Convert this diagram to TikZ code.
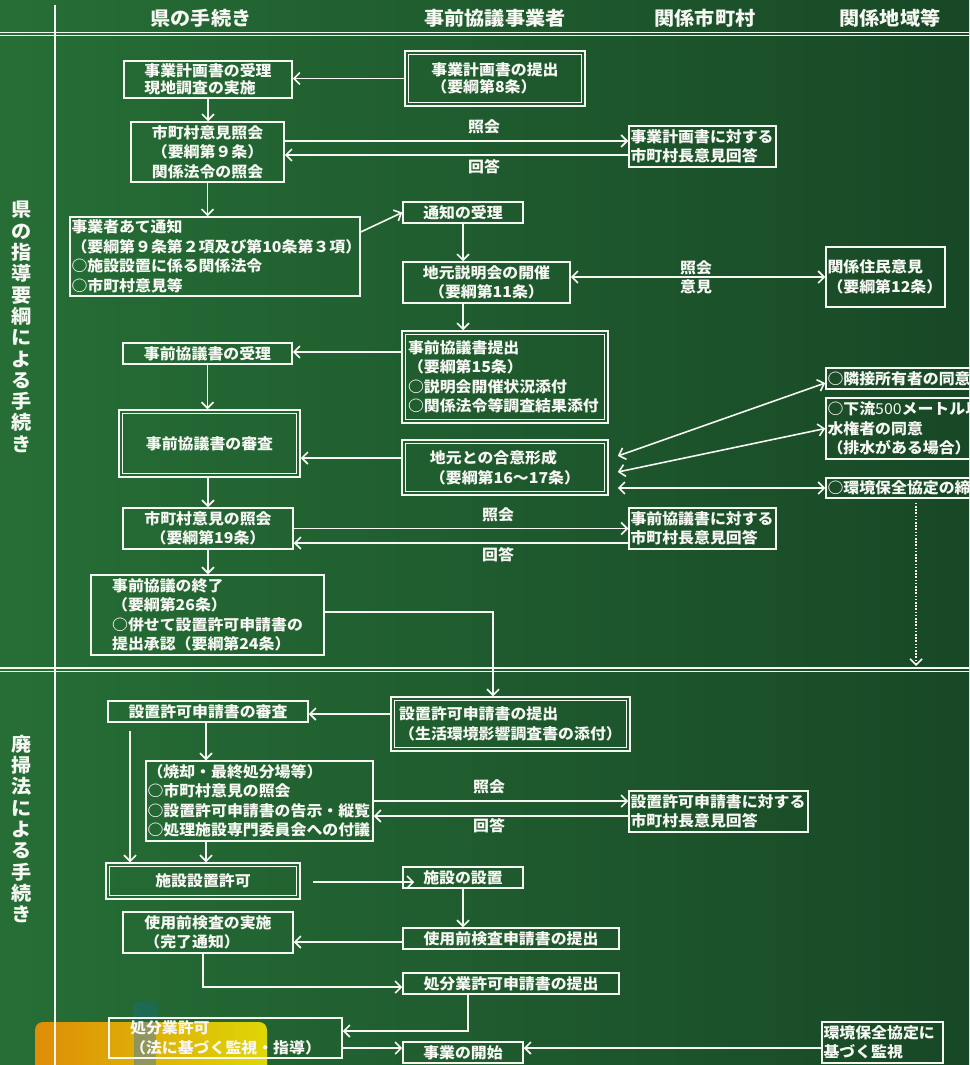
\documentclass[tikz,border=0pt]{standalone}
\usepackage{fontspec}
\setmainfont{Noto Sans CJK JP}[FakeStretch=1.06]
\usepackage{tikz}
\usetikzlibrary{arrows.meta}

\definecolor{chalk}{RGB}{246,246,242}
\definecolor{boardL}{RGB}{38,110,54}
\definecolor{boardR}{RGB}{24,72,38}

\begin{document}
\begin{tikzpicture}[
        x=1pt, y=-1pt,
        every node/.style={text=chalk, font=\fontsize{15}{19.5}\selectfont\bfseries},
        >={Straight Barb[length=6pt,width=12pt]},
        box/.style={draw=chalk, line width=1.5pt, inner xsep=1.5pt, inner ysep=1pt},
        dbox/.style={box, append after command={\pgfextra{\draw[chalk, line width=1.2pt]
            ([xshift=4.5pt,yshift=-4.5pt]\tikzlastnode.north west) rectangle
            ([xshift=-4.5pt,yshift=4.5pt]\tikzlastnode.south east);}}},
        tight/.style={font=\fontsize{15}{17}\selectfont\bfseries},
        head/.style={font=\fontsize{19}{22}\selectfont\bfseries},
        side/.style={font=\fontsize{19}{21.3}\selectfont\bfseries, align=center},
        lbl/.style={inner sep=0pt},
        arrow/.style={->, draw=chalk, line width=1.6pt},
        both/.style={<->, draw=chalk, line width=1.6pt},
        rule/.style={draw=chalk, line width=1.3pt}
    ]
    % 黒板
    \useasboundingbox (0,0) rectangle (969,1065);
    \clip (0,0) rectangle (969,1065);
    \shade[left color=boardL, right color=boardR] (0,0) rectangle (969,1065);
    \fill[blue!55!cyan, opacity=.15] (133,1002) rectangle (157,1022);
    \shade[left color=orange!85!yellow, right color=yellow!85!orange, rounded corners=8pt, opacity=.85] (35,1022) rectangle (267,1080);
    \fill[blue!60!cyan, opacity=.35] (134,1022) rectangle (156,1065);

    % 罫線
    \draw[rule] (0,32.5) -- (969,32.5);
    \draw[rule] (0,35.8) -- (969,35.8);
    \draw[rule] (0,668) -- (969,668);
    \draw[rule] (0,671.3) -- (969,671.3);
    \draw[draw=chalk, line width=2.4pt] (55,5) -- (55,1065);

    % 見出し
    \node[head] (h1) at (201,18) {県の手続き};
    \node[head] (h2) at (495,18) {事前協議事業者};
    \node[head] (h3) at (705,18) {関係市町村};
    \node[head] (h4) at (890,18) {関係地域等};
    \node[side] (s1) at (22,327) {県\\の\\指\\導\\要\\綱\\に\\よ\\る\\手\\続\\き};
    \node[side] (s2) at (22,829) {廃\\掃\\法\\に\\よ\\る\\手\\続\\き};

    % ノード
    \node[box, tight, minimum width=168pt, minimum height=37pt, align=left] (n1) at (208,79.5) {事業計画書の受理\\現地調査の実施};
    \node[dbox, tight, minimum width=180pt, minimum height=55pt, align=left] (n2) at (495,78.5) {事業計画書の提出\\（要綱第8条）};
    \node[box, minimum width=153pt, minimum height=60pt, align=center] (n3) at (207.5,152) {市町村意見照会\\（要綱第９条）\\関係法令の照会};
    \node[box, minimum width=147pt, minimum height=41pt, text width=144pt, align=left] (n4) at (702.5,146.5) {事業計画書に対する\\市町村長意見回答};
    \node[box, minimum width=290pt, minimum height=79pt, text width=287pt, align=left] (n5) at (215,256.5) {事業者あて通知\\（要綱第９条第２項及び第10条第３項）\\○施設設置に係る関係法令\\○市町村意見等};
    \node[box, minimum width=120pt, minimum height=21pt] (n6) at (463,212.5) {通知の受理};
    \node[box, minimum width=167pt, minimum height=41pt, align=center] (n7) at (486.5,282.5) {地元説明会の開催\\（要綱第11条）};
    \node[box, minimum width=119pt, minimum height=60pt, text width=116pt, align=left] (n8) at (885.5,277) {関係住民意見\\（要綱第12条）};
    \node[dbox, minimum width=206pt, minimum height=92pt, text width=194pt, align=left] (n9) at (505,377) {事前協議書提出\\（要綱第15条）\\○説明会開催状況添付\\○関係法令等調査結果添付};
    \node[box, minimum width=169pt, minimum height=21pt] (n10) at (207.5,353.5) {事前協議書の受理};
    \node[dbox, minimum width=181pt, minimum height=67pt] (n11) at (209.5,443.5) {事前協議書の審査};
    \node[dbox, minimum width=206pt, minimum height=55pt, align=left] (n12) at (505,467.5) {地元との合意形成\\（要綱第16～17条）};
    \node[box, minimum width=180pt, minimum height=21pt, text width=177pt, align=left] (n13) at (916,378.5) {○隣接所有者の同意};
    \node[box, minimum width=180pt, minimum height=61pt, text width=177pt, align=left] (n14) at (916,428.5) {○下流{\mdseries 500}メートル以内の\\水権者の同意\\（排水がある場合）};
    \node[box, minimum width=180pt, minimum height=20pt, text width=177pt, align=left] (n15) at (916,488) {○環境保全協定の締結};
    \node[box, minimum width=170pt, minimum height=41pt, align=center] (n16) at (208,528.5) {市町村意見の照会\\（要綱第19条）};
    \node[box, minimum width=147pt, minimum height=41pt, text width=144pt, align=left] (n17) at (702.5,528.5) {事前協議書に対する\\市町村長意見回答};
    \node[box, minimum width=233pt, minimum height=80pt, align=left] (n18) at (207.5,615) {事前協議の終了\\（要綱第26条）\\○併せて設置許可申請書の\\提出承認（要綱第24条）};
    \node[box, minimum width=200pt, minimum height=21pt] (n19) at (208,711.5) {設置許可申請書の審査};
    \node[dbox, minimum width=239pt, minimum height=54pt, align=left] (n20) at (510.5,724) {設置許可申請書の提出\\（生活環境影響調査書の添付）};
    \node[box, minimum width=227pt, minimum height=80pt, text width=224pt, align=left] (n21) at (259.5,801) {（焼却・最終処分場等）\\○市町村意見の照会\\○設置許可申請書の告示・縦覧\\○処理施設専門委員会への付議};
    \node[dbox, minimum width=194pt, minimum height=36pt] (n22) at (203,881) {施設設置許可};
    \node[box, minimum width=179pt, minimum height=41pt, text width=176pt, align=left] (n23) at (718.5,811.5) {設置許可申請書に対する\\市町村長意見回答};
    \node[box, minimum width=120pt, minimum height=21pt] (n24) at (463,877.5) {施設の設置};
    \node[box, minimum width=170pt, minimum height=41pt, align=left] (n25) at (208,932.5) {使用前検査の実施\\（完了通知）};
    \node[box, minimum width=216pt, minimum height=21pt] (n26) at (511,938.5) {使用前検査申請書の提出};
    \node[box, minimum width=216pt, minimum height=21pt] (n27) at (511,983.5) {処分業許可申請書の提出};
    \node[box, minimum width=233pt, minimum height=40pt, align=left] (n28) at (225.5,1038) {処分業許可\\（法に基づく監視・指導）};
    \node[box, minimum width=120pt, minimum height=21pt] (n29) at (463,1052.5) {事業の開始};
    \node[box, minimum width=121pt, minimum height=41pt, text width=118pt, align=left] (n30) at (882.5,1042.5) {環境保全協定に\\基づく監視};

    % ラベル
    \node[lbl] (q1) at (484,127) {照会};
    \node[lbl] (a1) at (484,167) {回答};
    \node[lbl] (q2) at (696,268) {照会};
    \node[lbl] (a2) at (696,287) {意見};
    \node[lbl] (q3) at (498,515) {照会};
    \node[lbl] (a3) at (498,555) {回答};
    \node[lbl] (q4) at (489,787) {照会};
    \node[lbl] (a4) at (489,826) {回答};
    \coordinate (dotend) at (916,666);

    % 矢印
    \draw[arrow] (n2.west) -- (n2.west -| n1.east);
    \draw[arrow] (n1.south) -- (n1.south |- n3.north);
    \draw[arrow] ([yshift=11pt]n3.east) -- ([yshift=11pt]n3.east -| n4.west);
    \draw[arrow] ([yshift=-8.5pt]n4.west) -- ([yshift=-8.5pt]n4.west -| n3.east);
    \draw[arrow] (n3.south) -- (n3.south |- n5.north);
    \draw[arrow] ([yshift=24.5pt]n5.east) -- (n6.west);
    \draw[arrow] (n6.south) -- (n6.south |- n7.north);
    \draw[both] ([yshift=5.5pt]n7.east) -- ([yshift=5.5pt]n7.east -| n8.west);
    \draw[arrow] (n6.south |- n7.south) -- (n6.south |- n9.north);
    \draw[arrow] ([yshift=25pt]n9.west) -- ([yshift=25pt]n9.west -| n10.east);
    \draw[arrow] (n10.south) -- (n10.south |- n11.north);
    \draw[arrow] ([yshift=9.5pt]n12.west) -- ([yshift=9.5pt]n12.west -| n11.east);
    \draw[both] ([xshift=9pt,yshift=11.5pt]n12.east) -- ([yshift=-4.5pt]n13.west);
    \draw[both] ([xshift=9pt,yshift=-4.5pt]n12.east) -- (n14.west);
    \draw[both] ([xshift=9pt,yshift=-20.5pt]n12.east) -- (n15.west);
    \draw[arrow, dash pattern=on 1.6pt off 1.6pt] ([yshift=-4pt]n15.south) -- (dotend);
    \draw[arrow] (n16.north |- n11.south) -- (n16.north);
    \draw[arrow] (n16.east) -- (n16.east -| n17.west);
    \draw[arrow] ([yshift=-14.5pt]n17.west) -- ([yshift=-14.5pt]n17.west -| n16.east);
    \draw[arrow] (n16.south) -- (n16.south |- n18.north);
    \draw[arrow] ([yshift=3pt]n18.east) -| ([xshift=-17.5pt]n20.north);
    \draw[arrow] ([yshift=10pt]n20.west) -- ([yshift=10pt]n20.west -| n19.east);
    \draw[arrow] ([xshift=-2pt]n19.south) -- ([xshift=-2pt]n19.south |- n21.north);
    \draw[arrow] ([xshift=-78pt,yshift=-8pt]n19.south) -- ([xshift=-78pt]n19.south |- n22.north);
    \draw[arrow] ([xshift=-2pt]n19.south |- n21.south) -- ([xshift=-2pt]n19.south |- n22.north);
    \draw[arrow] (n21.east) -- (n21.east -| n23.west);
    \draw[arrow] ([yshift=-4.5pt]n23.west) -- ([yshift=-4.5pt]n23.west -| n21.east);
    \draw[arrow] ([xshift=12pt,yshift=-1pt]n22.east) -- ([xshift=12pt,yshift=-1pt]n22.east -| n24.west);
    \draw[arrow] (n24.south) -- (n24.south |- n26.north);
    \draw[arrow] ([yshift=-3.5pt]n26.west) -- ([yshift=-3.5pt]n26.west -| n25.east);
    \draw[arrow] ([xshift=-5pt]n25.south) |- ([yshift=-3.5pt]n27.west);
    \draw[arrow] ([xshift=-43pt]n27.south) |- ([yshift=7pt]n28.east);
    \draw[arrow] ([yshift=-10pt]n28.east) -- ([yshift=-10pt]n28.east -| n29.west);
    \draw[arrow] ([yshift=-5.5pt]n30.west) -- ([yshift=-5.5pt]n30.west -| n29.east);
\end{tikzpicture}
\end{document}
